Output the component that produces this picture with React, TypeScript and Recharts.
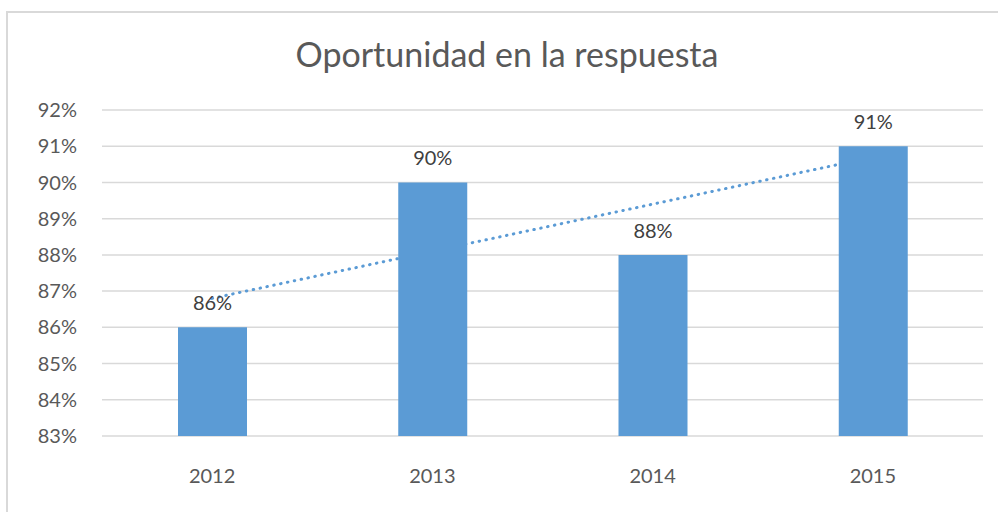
import React from 'react';
import { ComposedChart, Bar, Line, XAxis, YAxis, CartesianGrid, LabelList } from 'recharts';

const years = ['2012', '2013', '2014', '2015'];
const values = [86, 90, 88, 91];
const trend = [86.8, 88.1, 89.4, 90.7];
const yTicks = [83, 84, 85, 86, 87, 88, 89, 90, 91, 92];
const title = 'Oportunidad en la respuesta';

const data = years.map((y, i) => ({ year: y, value: values[i], trend: trend[i] }));

const FONT = 'Lato, "Open Sans", sans-serif';
const TEXT = '#595959';
const BLUE = '#5B9BD5';

export default function App() {
  return (
    <div style={{ position: 'absolute', left: 0, top: 0, width: 998, height: 512, background: '#fff', overflow: 'hidden', fontFamily: FONT }}>
      <div style={{ position: 'absolute', left: 6, top: 11, width: 1100, height: 600, border: '2px solid #D9D9D9', boxSizing: 'border-box' }} />
      <div style={{ position: 'absolute', left: 0, top: 34, width: 1014, textAlign: 'center', fontSize: 34, lineHeight: '40px', color: TEXT, fontFamily: FONT }}>{title}</div>
      <div style={{ position: 'absolute', left: 0, top: 0 }}>
        <ComposedChart width={998} height={512} data={data} margin={{ top: 110, right: 15, bottom: 0, left: 0 }}>
          <CartesianGrid vertical={false} stroke="#D9D9D9" strokeWidth={1.5} />
          <XAxis dataKey="year" height={76} axisLine={false} tickLine={false} tickSize={0} tickMargin={33}
            tick={{ fill: TEXT, fontSize: 20, fontFamily: FONT }} />
          <YAxis domain={[83, 92]} ticks={yTicks} width={102} axisLine={false} tickLine={false} tickSize={0} tickMargin={25}
            tickFormatter={(v: number) => `${v}%`} tick={{ fill: TEXT, fontSize: 20, fontFamily: FONT }} interval={0} />
          <Line dataKey="trend" type="linear" stroke={BLUE} strokeWidth={3} strokeLinecap="round" strokeDasharray="0.5 6.5"
            dot={false} activeDot={false} isAnimationActive={false} zIndex={100} />
          <Bar dataKey="value" fill={BLUE} barSize={69} isAnimationActive={false}>
            <LabelList dataKey="value" position="top" offset={17} formatter={(v: number) => `${v}%`}
              style={{ fill: '#404040', fontSize: 20, fontFamily: FONT }} />
          </Bar>
        </ComposedChart>
      </div>
    </div>
  );
}
